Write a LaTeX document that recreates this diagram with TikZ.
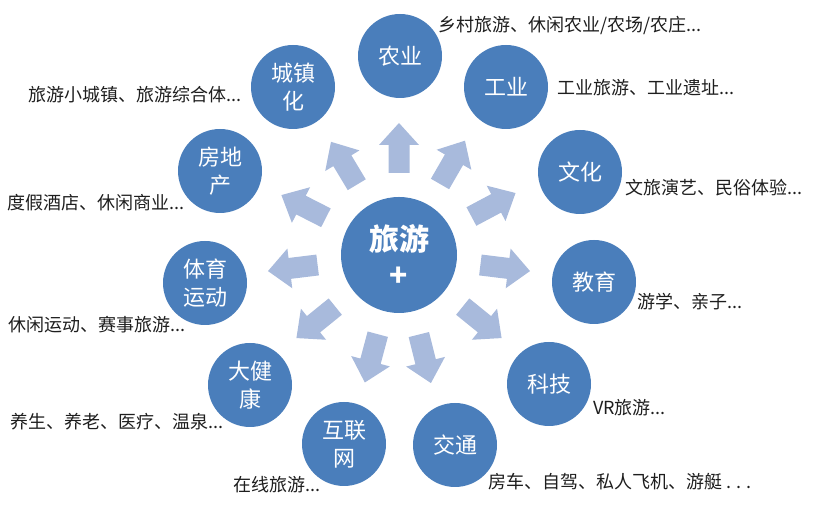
\documentclass[tikz,border=0pt]{standalone}
\usepackage{fontspec}
\setmainfont{Noto Sans CJK SC}

\definecolor{hubblue}{RGB}{74,126,187}
\definecolor{arrowblue}{RGB}{168,186,220}
\definecolor{notegray}{RGB}{30,30,30}

\begin{document}
\begin{tikzpicture}[x=1pt, y=1pt,
    hub/.style={circle, fill=hubblue, text=white, minimum size=116pt, inner sep=0pt, align=center, font=\fontsize{30}{36}\selectfont\bfseries},
    sector/.style={circle, fill=hubblue, text=white, minimum size=84pt, inner sep=0pt, align=center, font=\fontsize{22}{28}\selectfont},
    note/.style={anchor=west, inner sep=0pt, text=notegray, font=\fontsize{18}{20}\selectfont}]
    \useasboundingbox (0,0) rectangle (823,516);
    % block arrows round the hub
    \foreach \ang in {90,60,28,-7,-39,-76,-105,-141,-173,153,121} {
      \fill[arrowblue, shift={(399,261)}, rotate=\ang]
        (82,-10.5) -- (110,-10.5) -- (110,-20) -- (132,0) -- (110,20) -- (110,10.5) -- (82,10.5) -- cycle;
    }
    \node[hub] (hub) at (399,261) {旅游\\+};
    \node[sector] (nongye) at (400,460) {农业};
    \node[sector] (gongye) at (506,429) {工业};
    \node[sector] (wenhua) at (580,344) {文化};
    \node[sector] (jiaoyu) at (594,234) {教育};
    \node[sector] (keji) at (549,132) {科技};
    \node[sector] (jiaotong) at (455,71) {交通};
    \node[sector] (hulianwang) at (344,72) {互联\\网};
    \node[sector] (dajiankang) at (250,131) {大健\\康};
    \node[sector] (tiyu) at (205,233) {体育\\运动};
    \node[sector] (fangdichan) at (220,345) {房地\\产};
    \node[sector] (chengzhen) at (293,429) {城镇\\化};
    % notes
    \node[note] (nongyeNote) at (438,491) {乡村旅游、休闲农业/农场/农庄...};
    \node[note] (gongyeNote) at (557,428) {工业旅游、工业遗址...};
    \node[note] (wenhuaNote) at (625,328) {文旅演艺、民俗体验...};
    \node[note] (jiaoyuNote) at (637,214) {游学、亲子...};
    \node[note] (kejiNote) at (593,108) {VR旅游...};
    \node[note] (jiaotongNote) at (488,34) {房车、自驾、私人飞机、游艇 . . .};
    \node[note] (hulianwangNote) at (233,31) {在线旅游...};
    \node[note] (dajiankangNote) at (10,94) {养生、养老、医疗、温泉...};
    \node[note] (tiyuNote) at (8,191) {休闲运动、赛事旅游...};
    \node[note] (fangdichanNote) at (7,313) {度假酒店、休闲商业...};
    \node[note] (chengzhenNote) at (28,421) {旅游小城镇、旅游综合体...};
\end{tikzpicture}
\end{document}
